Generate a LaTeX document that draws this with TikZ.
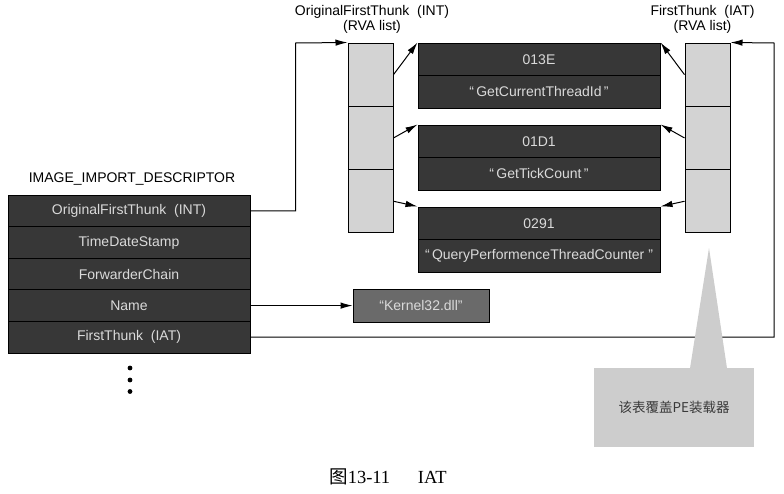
\documentclass[tikz,border=0pt]{standalone}
\usepackage{fontspec}
\setmainfont{Liberation Sans}
\newfontfamily\cjk{Noto Sans CJK SC}
\newfontfamily\capserif{Liberation Serif}
\usetikzlibrary{arrows.meta,calc}
\definecolor{darkbox}{HTML}{373737}
\definecolor{lighttext}{HTML}{DADADA}
\definecolor{cellgray}{HTML}{D3D3D3}
\definecolor{kerngray}{HTML}{6A6A6A}
\definecolor{callgray}{HTML}{CDCDCD}
\definecolor{calltext}{HTML}{3A3A3A}
\begin{document}
\begin{tikzpicture}[x=1pt,y=-1pt,
  lbl/.style={font=\fontsize{14}{15.5}\selectfont, inner sep=0, align=center},
  row/.style={draw=black, line width=1pt, fill=darkbox, text=lighttext,
    minimum width=242pt, minimum height=31.6pt, inner sep=0,
    font=\fontsize{14}{16}\selectfont},
  half/.style={row, minimum height=32.5pt},
  cell/.style={draw=black, line width=1pt, fill=cellgray,
    minimum width=45pt, minimum height=63.3pt, inner sep=0},
  kern/.style={draw=black, line width=0.8pt, fill=kerngray, text=lighttext,
    minimum width=136pt, minimum height=33pt, inner sep=0,
    font=\fontsize{14}{16}\selectfont},
  callbox/.style={fill=callgray, text=calltext, minimum width=160pt,
    minimum height=79pt, inner sep=0, font=\cjk\fontsize{13.5}{15}\selectfont},
  conn/.style={-{Latex[length=12pt,width=6.5pt]}, line width=1pt},
  dotmark/.style={circle, fill=black, minimum size=4.8pt, inner sep=0}
]
\useasboundingbox (0,0) rectangle (784,493);

% left descriptor table
\node[lbl] (title) at (132,179) {IMAGE\_IMPORT\_DESCRIPTOR};
\node[row] (r1) at (129,210.8) {OriginalFirstThunk\ \ (INT)};
\node[row] (r2) at (129,242.4) {TimeDateStamp};
\node[row] (r3) at (129,274.0) {ForwarderChain};
\node[row] (r4) at (129,305.6) {Name};
\node[row] (r5) at (129,337.2) {FirstThunk\ \ (IAT)};
\node[dotmark] (d1) at (130,368) {};
\node[dotmark] (d2) at (130,380) {};
\node[dotmark] (d3) at (130,391.5) {};

% column headers
\node[lbl] (inthead) at (372,19.5) {OriginalFirstThunk\ \ (INT)\\(RVA list)};
\node[lbl] (iathead) at (702.5,19.5) {FirstThunk\ \ (IAT)\\(RVA list)};

% INT cells
\node[cell] (int1) at (370.5,74.65) {};
\node[cell] (int2) at (370.5,137.95) {};
\node[cell] (int3) at (370.5,201.25) {};
% IAT cells
\node[cell] (iat1) at (707.5,74.65) {};
\node[cell] (iat2) at (707.5,137.95) {};
\node[cell] (iat3) at (707.5,201.25) {};

% hint/name boxes
\node[half] (b1a) at (539,59.25) {013E};
\node[half] (b1b) at (539,91.75) {“\,GetCurrentThreadId\,”};
\node[half] (b2a) at (539,141.25) {01D1};
\node[half] (b2b) at (539,173.75) {“\,GetTickCount\,”};
\node[half] (b3a) at (539,223.25) {0291};
\node[half] (b3b) at (539,255.75) {“\,QueryPerformenceThreadCounter\ ”};

% Kernel32 box
\node[kern] (k32) at (421,305.6) {“Kernel32.dll”};

% connectors
\coordinate (lc) at (295.5,43);
\coordinate (rc) at (774,43);
\draw[conn] (r1.east) -| (lc) -- (int1.north west);
\draw[conn] (r4.east) -- (k32.west);
\draw[conn] (r5.east) -| (rc) -- (iat1.north east);

\draw[conn] (int1.east) -- (b1a.north west);
\draw[conn] (int2.east) -- (b2a.north west);
\draw[conn] (int3.east) -- (b3a.north west);
\draw[conn] (iat1.west) -- (b1a.north east);
\draw[conn] (iat2.west) -- (b2a.north east);
\draw[conn] (iat3.west) -- (b3a.north east);

% callout
\coordinate (tip) at (709,248);
\node[callbox] (call) at (674,407.5) {该表覆盖PE装载器};
\fill[callgray] (tip) -- ($(call.north)+(16,0.5)$) -- ($(call.north)+(53,0.5)$) -- cycle;

% caption
\node[inner sep=0, font=\fontsize{18.5}{20}\selectfont] (cap) at (388,477)
  {{\cjk 图}{\capserif 13-11\hspace{1.5em}IAT}};
\end{tikzpicture}
\end{document}
